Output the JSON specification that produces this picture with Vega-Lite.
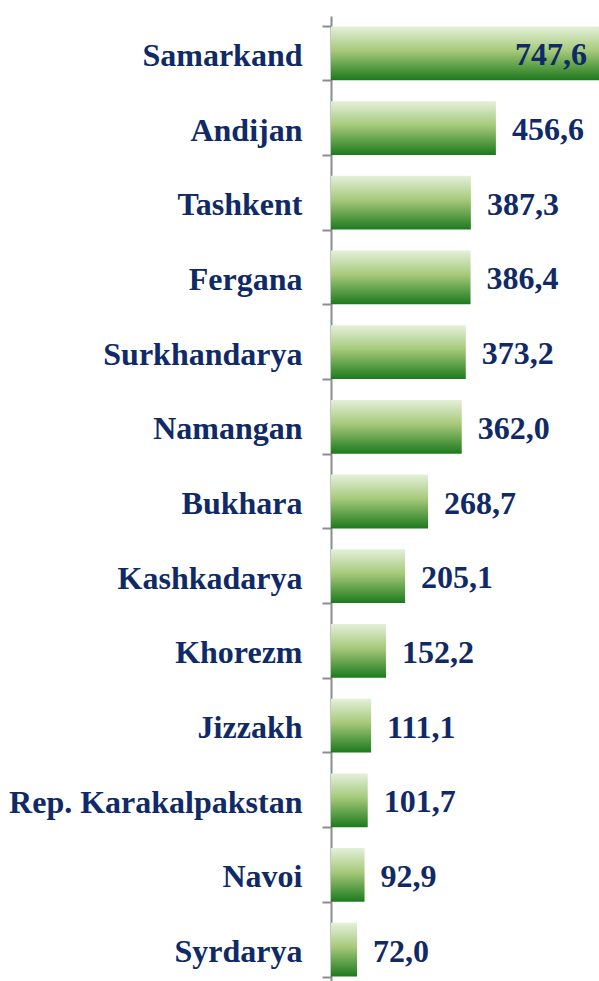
{
  "$schema": "https://vega.github.io/schema/vega-lite/v6.json",
  "width": 270,
  "height": 971,
  "autosize": {"type": "none"},
  "padding": {"left": 331, "top": 16, "right": 0, "bottom": 0},
  "background": "white",
  "config": {
    "view": {"stroke": null},
    "locale": {"number": {"decimal": ",", "thousands": " ", "grouping": [3], "currency": ["", ""]}}
  },
  "data": {
    "values": [
      {"region": "Samarkand", "value": 747.6},
      {"region": "Andijan", "value": 456.6},
      {"region": "Tashkent", "value": 387.3},
      {"region": "Fergana", "value": 386.4},
      {"region": "Surkhandarya", "value": 373.2},
      {"region": "Namangan", "value": 362.0},
      {"region": "Bukhara", "value": 268.7},
      {"region": "Kashkadarya", "value": 205.1},
      {"region": "Khorezm", "value": 152.2},
      {"region": "Jizzakh", "value": 111.1},
      {"region": "Rep. Karakalpakstan", "value": 101.7},
      {"region": "Navoi", "value": 92.9},
      {"region": "Syrdarya", "value": 72.0}
    ]
  },
  "encoding": {
    "y": {
      "field": "region", "type": "nominal", "sort": null,
      "scale": {"paddingInner": 0.28, "paddingOuter": 0.14},
      "axis": {
        "title": null, "tickBand": "extent", "tickSize": 9, "tickColor": "#8c8c8c", "tickWidth": 2,
        "domainColor": "#8c8c8c", "domainWidth": 2,
        "labelFont": "Liberation Serif", "labelFontWeight": "bold", "labelFontSize": 32,
        "labelColor": "#0f2a66", "labelPadding": 20, "labelLimit": 0, "labelBaseline": "middle", "labelOffset": 2
      }
    },
    "x": {
      "field": "value", "type": "quantitative",
      "scale": {"domain": [0, 747.6], "nice": false},
      "axis": null
    }
  },
  "layer": [
    {
      "mark": {
        "type": "bar",
        "fill": {
          "x1": 0, "y1": 0, "x2": 0, "y2": 1, "gradient": "linear",
          "stops": [
            {"offset": 0, "color": "#e4f0da"},
            {"offset": 0.45, "color": "#a6c97a"},
            {"offset": 1, "color": "#1c7a1c"}
          ]
        }
      }
    },
    {
      "transform": [{"filter": "datum.value < 700"}],
      "mark": {"type": "text", "align": "left", "dx": 16, "dy": 2, "font": "Liberation Serif", "fontWeight": "bold", "fontSize": 32, "color": "#0f2a66"},
      "encoding": {"text": {"field": "value", "type": "quantitative", "format": ".1f"}}
    },
    {
      "transform": [{"filter": "datum.value >= 700"}],
      "mark": {"type": "text", "align": "right", "dx": -14, "dy": 2, "font": "Liberation Serif", "fontWeight": "bold", "fontSize": 32, "color": "#0f2a66"},
      "encoding": {"text": {"field": "value", "type": "quantitative", "format": ".1f"}}
    }
  ]
}
